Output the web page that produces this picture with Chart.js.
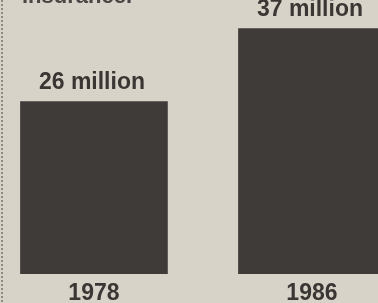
<!DOCTYPE html>
<html>
<head>
<meta charset="utf-8">
<script src="https://cdn.jsdelivr.net/npm/chart.js@4/dist/chart.umd.min.js"></script>
<style>
	html, body { margin: 0; padding: 0; background: #d8d3c9; }
	#wrap { width: 378px; height: 303px; position: relative; }
</style>
</head>
<body>
<div id="wrap"><canvas id="insured-chart"></canvas></div>
<script>
// 연도별 데이터
const years = ['1978', '1986'];
const insured = [26, 37];
const valueLabels = ['26 million', '37 million'];
const headline = 'insurance.';

const paper = '#d8d3c9';
const ink = '#3f3b39';
const fontFamily = '"Liberation Sans", Arial, sans-serif';

// 배경, 왼쪽 점선 테두리, 잘린 제목
const paperPlugin = {
	id: 'paper',
	beforeDraw(chart) {
		const c = chart.ctx;
		c.save();
		c.fillStyle = paper;
		c.fillRect(0, 0, chart.width, chart.height);
		c.strokeStyle = '#8d8a80';
		c.lineWidth = 2;
		c.setLineDash([2, 2]);
		c.beginPath();
		c.moveTo(2, 0);
		c.lineTo(2, chart.height);
		c.stroke();
		c.setLineDash([]);
		c.fillStyle = '#4a4644';
		c.font = 'bold 22px ' + fontFamily;
		c.textAlign = 'left';
		c.textBaseline = 'alphabetic';
		c.fillText(headline, 22, 3);
		c.restore();
	}
};

// 막대 위 값 표시
const valueLabelPlugin = {
	id: 'valueLabels',
	afterDatasetsDraw(chart) {
		const c = chart.ctx;
		const meta = chart.getDatasetMeta(0);
		c.save();
		c.fillStyle = '#3a3634';
		c.font = 'bold 23px ' + fontFamily;
		c.textAlign = 'center';
		c.textBaseline = 'alphabetic';
		meta.data.forEach((bar, i) => {
			c.fillText(valueLabels[i], bar.x - 2, bar.y - 13);
		});
		c.restore();
	}
};

document.addEventListener('DOMContentLoaded', function() {
	const ctx = document.getElementById('insured-chart').getContext('2d');
	new Chart(ctx, {
		type: 'bar',
		data: {
			datasets: [{
				data: insured.map((v, i) => ({ x: i, y: v })),
				backgroundColor: ink,
				borderWidth: 0,
				barThickness: 147
			}]
		},
		options: {
			responsive: true,
			maintainAspectRatio: false,
			animation: false,
			layout: { padding: 0 },
			plugins: {
				legend: { display: false },
				tooltip: { enabled: false }
			},
			scales: {
				x: {
					type: 'linear',
					offset: false,
					bounds: 'data',
					min: -0.431,
					max: 1.303,
					grid: { display: false, drawTicks: false },
					border: { display: false },
					afterBuildTicks(scale) {
						scale.ticks = years.map((y, i) => ({ value: i }));
					},
					afterFit(scale) {
						scale.height = 29;
					},
					ticks: {
						color: '#3a3634',
						font: { family: fontFamily, size: 23, weight: 'bold' },
						padding: 6,
						maxRotation: 0,
						autoSkip: false,
						callback: v => years[v]
					}
				},
				y: {
					display: false,
					min: 0,
					max: 41.3
				}
			}
		},
		plugins: [paperPlugin, valueLabelPlugin]
	});
});
</script>
</body>
</html>
